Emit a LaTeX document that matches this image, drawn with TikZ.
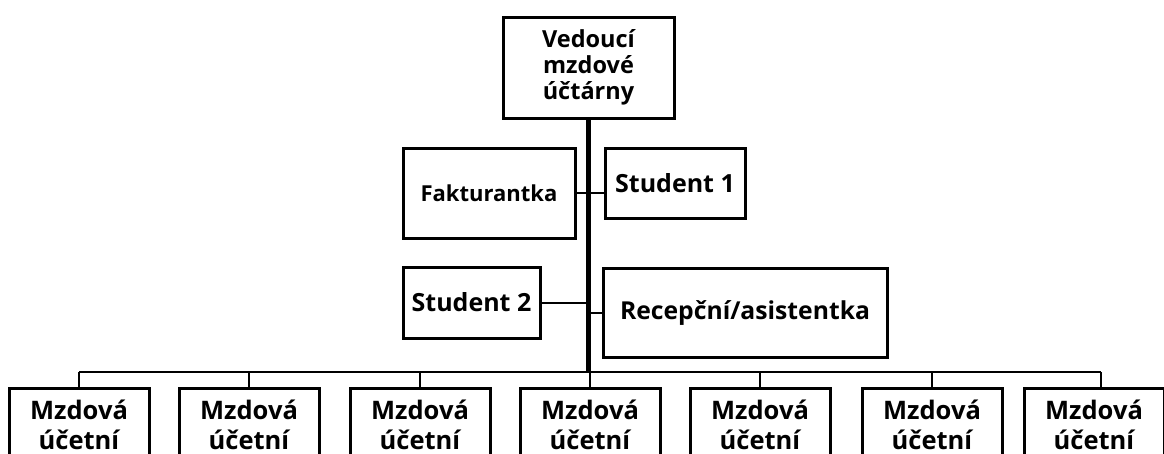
\documentclass[tikz,border=0pt]{standalone}
\usepackage{fontspec}
\setmainfont{Open Sans}
\begin{document}
\begin{tikzpicture}[x=1pt,y=-1pt,
  box/.style={draw=black,line width=3pt,fill=white,rectangle,inner sep=0pt,align=center,font=\bfseries},
  conn/.style={draw=black,line width=2.6pt},
  spine/.style={draw=black,line width=5pt}]
\useasboundingbox (0,0) rectangle (1164,453);
\begin{scope}
\clip (0,0) rectangle (1164,453);
% top
\node[box,minimum width=171pt,minimum height=101pt,font=\bfseries\fontsize{23.5}{26}\selectfont] (top) at (588.5,67.5) {Vedoucí\\mzdové\\účtárny};
\coordinate (sp) at (588.5,372);
\draw[spine] (top.south) -- (sp);
% assistants
\node[box,minimum width=172pt,minimum height=90pt,font=\bfseries\fontsize{22}{26}\selectfont] (fak) at (489,193) {Fakturantka};
\node[box,minimum width=140pt,minimum height=70pt,font=\bfseries\fontsize{25}{30}\selectfont] (st1) at (675,183) {Student 1};
\node[box,minimum width=137pt,minimum height=71pt,font=\bfseries\fontsize{25}{30}\selectfont] (st2) at (471.5,302.5) {Student 2};
\node[box,minimum width=284pt,minimum height=89pt,font=\bfseries\fontsize{24.7}{28}\selectfont] (rec) at (745,312.5) {Recepční/asistentka};
\coordinate (j1) at (588.5,193);
\coordinate (j2) at (588.5,303);
\coordinate (j3) at (588.5,313);
\draw[conn] (fak.east |- j1) -- (j1) -- (st1.west |- j1);
\draw[conn] (st2.east |- j2) -- (j2);
\draw[conn] (j3) -- (rec.west |- j3);
% bus
\draw[conn] (79,372) -- (1101,372);
\foreach \i/\x in {1/79,2/249,3/420,4/590,5/760,6/932,7/1094}{
  \node[box,minimum width=140pt,minimum height=72pt,anchor=north,font=\bfseries\fontsize{25.5}{30}\selectfont] (m\i) at (\x,387) {Mzdová\\účetní};
}
\foreach \i/\x in {1/79,2/249,3/420,4/590,5/760,6/932,7/1101}{
  \coordinate (d\i) at (\x,372);
  \draw[conn] (d\i) -- (d\i |- m\i.north);
}
\end{scope}
\end{tikzpicture}
\end{document}
